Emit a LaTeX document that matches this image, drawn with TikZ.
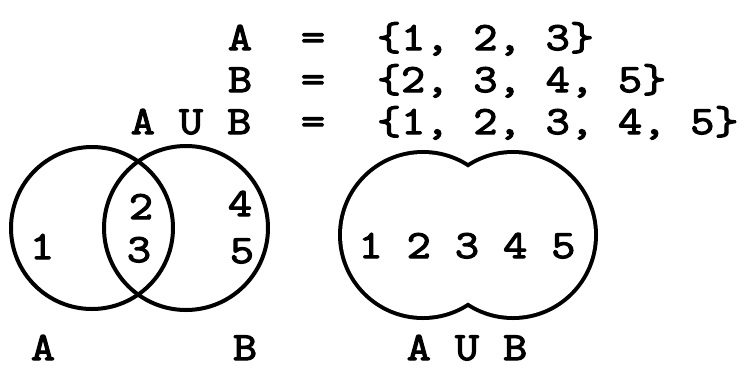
\documentclass[tikz,border=0pt]{standalone}
\usepackage{fontspec}
\setmonofont{Latin Modern Mono}[FakeStretch=1.17, FakeBold=3]
\begin{document}
\begin{tikzpicture}[x=1pt, y=-1pt, line width=4pt,
  tt/.style={font=\ttfamily\fontsize{40}{41}\selectfont, inner sep=0pt, anchor=base}]
  \useasboundingbox (0,0) rectangle (751,368);
  % the three sets
  \node[tt] (la) at (240,50) {A};
  \node[tt] (eqa) at (313,50) {=};
  \node[tt, anchor=base west] (sa) at (375,50) {\{1, 2, 3\}};
  \node[tt] (lb) at (240,92) {B};
  \node[tt] (eqb) at (313,92) {=};
  \node[tt, anchor=base west] (sb) at (375,92) {\{2, 3, 4, 5\}};
  \node[tt] (lab) at (191,134) {A U B};
  \node[tt] (eqab) at (313,134) {=};
  \node[tt, anchor=base west] (sab) at (375,134) {\{1, 2, 3, 4, 5\}};
  % A and B
  \draw (92,228) circle[radius=81pt];
  \draw (186,228) circle[radius=82pt];
  \node[tt] (one) at (42,259) {1};
  \node[tt] (two) at (141,219) {2};
  \node[tt] (three) at (139,262) {3};
  \node[tt] (four) at (240,216) {4};
  \node[tt] (five) at (242,263) {5};
  \node[tt] (ca) at (43,360) {A};
  \node[tt] (cb) at (245,360) {B};
  % A U B
  \draw[line width=8pt] (423,235) circle[radius=81pt] (513,235) circle[radius=81pt];
  \fill[white] (423,235) circle[radius=81pt] (513,235) circle[radius=81pt];
  \node[tt] (all) at (467,258) {1 2 3 4 5};
  \node[tt] (cab) at (467,360) {A U B};
\end{tikzpicture}
\end{document}
